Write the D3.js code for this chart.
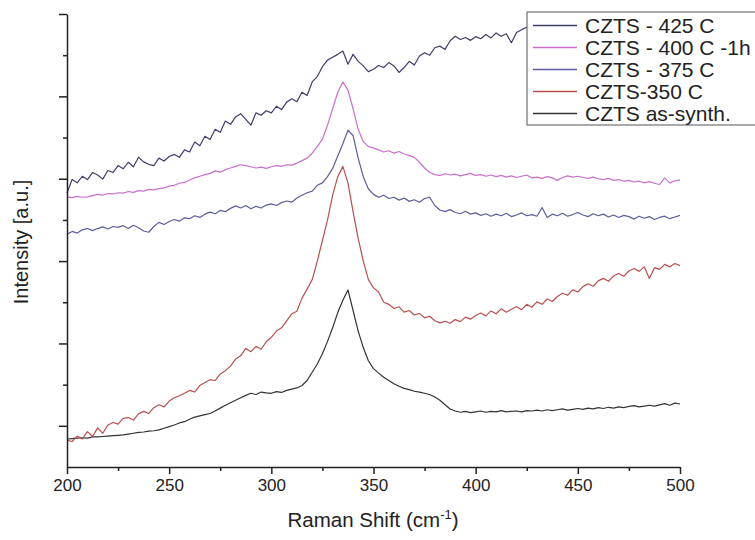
<!DOCTYPE html>
<html>
<head>
<meta charset="utf-8">
<script src="https://cdn.jsdelivr.net/npm/d3@7"></script>
<style>
  body { margin: 0; background: #fff; }
  text { font-family: "Liberation Sans", Arial, sans-serif; fill: #222; }
</style>
</head>
<body>
<svg width="755" height="540"></svg>
<script>
// Raman shift grid, cm-1 (every 2.5)
const shifts = d3.range(200, 500.1, 2.5);

// intensities, arbitrary units
const asSynth = [
  6.8, 6.9, 7.0, 7.1, 7.0, 7.3, 7.3, 7.4, 7.5, 7.6,
  7.7, 7.8, 8.0, 8.2, 8.4, 8.5, 8.7, 8.8, 9.0, 9.4,
  9.8, 10.2, 10.7, 11.0, 11.6, 12.1, 12.4, 12.7, 13.0, 13.6,
  14.3, 15.0, 15.6, 16.2, 16.8, 17.4, 17.9, 17.6, 18.2, 18.0,
  17.9, 18.3, 18.1, 18.6, 18.9, 19.2, 19.8, 21.0, 23.0, 25.0,
  27.5, 30.5, 33.8, 37.5, 40.5, 43.0, 38.0, 33.0, 29.0, 25.8,
  23.9, 22.8, 21.8, 21.0, 20.2, 19.6, 19.1, 18.8, 18.4, 18.2,
  17.9, 17.6, 17.0, 16.2, 15.1, 14.1, 13.6, 13.3, 13.5, 13.2,
  13.4, 13.6, 13.3, 13.5, 13.4, 13.7, 13.4, 13.5, 13.6, 13.4,
  13.7, 13.6, 13.8, 13.6, 13.9, 13.7, 13.9, 14.1, 13.8, 14.0,
  14.2, 14.0, 14.3, 14.1, 14.4, 14.2, 14.5, 14.3, 14.6, 14.4,
  14.7, 14.9, 14.6, 14.8, 15.0, 14.8, 15.1, 15.4, 15.0, 15.5,
  15.3
];
const czts350 = [
  6.5, 6.2, 7.5, 6.8, 8.6, 7.4, 9.5, 8.2, 10.2, 10.8,
  10.4, 11.8, 12.0, 11.4, 12.9, 13.5, 13.0, 14.4, 15.1, 14.6,
  16.0, 16.8, 17.3, 17.9, 18.6, 18.2, 19.8, 20.5, 21.2, 21.0,
  22.6, 23.4, 24.5, 26.2, 27.0, 28.8, 28.0, 29.3, 28.6, 30.4,
  31.5, 33.0, 33.8, 35.5, 37.2, 37.8, 41.0, 43.2, 45.5, 50.0,
  55.0, 60.0, 66.0, 70.5, 73.0, 69.0, 62.0, 55.5, 50.0, 45.5,
  43.5, 42.5, 40.0, 39.5, 38.5, 38.9, 37.6, 38.0, 36.9, 37.3,
  36.2, 36.6, 35.5, 35.0, 35.4, 34.9, 35.8, 35.3, 36.4, 35.9,
  36.8, 37.4, 36.7, 37.9, 37.2, 38.4, 37.6, 38.3, 38.9, 38.2,
  39.5, 38.8, 40.1, 39.5, 40.8, 40.2, 41.4, 42.2, 41.7, 43.0,
  42.5, 43.8, 44.5, 43.9, 45.2, 45.8, 45.1, 46.4, 47.0, 46.3,
  47.6, 48.2, 47.5, 48.6, 45.8, 48.4, 48.0, 49.2, 48.6, 49.4,
  48.9
];
const czts375 = [
  56.5, 57.2, 56.8, 57.6, 57.9, 57.4, 57.9, 58.3, 57.8, 58.4,
  58.2, 58.6, 57.9, 58.7, 58.1, 57.3, 57.0, 58.4, 59.4, 58.9,
  59.6, 60.1, 59.7, 60.5, 60.3, 61.0, 60.6, 61.4, 61.9, 61.5,
  62.3, 62.0, 62.8, 63.4, 62.9, 63.5, 62.7, 63.3, 62.9, 63.6,
  63.9, 63.5, 64.2, 64.6, 64.3, 65.3, 66.0, 66.6, 67.0, 68.4,
  69.0, 70.5, 72.5, 75.5, 78.5, 81.8, 80.5, 75.0, 70.5, 67.5,
  66.2, 65.5, 66.0, 65.2, 65.5, 64.8, 65.3, 64.5, 64.9, 64.3,
  65.2, 65.5, 63.5, 62.4, 62.0, 62.5, 61.8, 61.5, 62.1, 61.4,
  61.7, 61.1, 61.5, 60.9, 61.4, 61.0, 61.6, 60.8, 61.2, 61.7,
  61.0, 61.3, 60.9, 63.0, 60.6, 61.4, 61.0, 61.6, 60.9, 61.3,
  61.8, 61.2, 60.8, 61.5, 61.0, 61.4, 60.7, 61.2, 60.6, 61.1,
  60.8, 60.2, 60.9, 60.4, 60.8, 60.1, 60.6, 60.9, 60.3, 60.7,
  61.1
];
const czts400 = [
  65.6, 65.4, 65.7, 65.5, 65.6, 65.9, 66.2, 66.0, 66.4, 66.3,
  66.6, 66.5, 66.9, 66.7, 67.1, 67.0, 67.4, 67.3, 67.6, 67.8,
  68.2, 68.4, 68.9, 69.1, 69.7, 70.2, 70.6, 71.0, 71.3, 71.9,
  71.6, 72.2, 72.6, 73.0, 73.4, 73.2, 72.9, 72.6, 72.8, 72.5,
  72.9, 73.2, 73.0, 73.4, 73.3, 73.8, 74.4, 75.0, 76.2, 77.8,
  79.6, 83.0, 87.0, 91.0, 93.5, 91.5, 87.0, 82.0, 79.0, 77.8,
  77.5, 77.0, 76.5, 76.8, 76.2, 76.6, 76.0, 75.6, 75.2, 74.0,
  72.6, 71.5, 71.0, 70.8, 71.2, 70.9, 71.1, 70.7, 71.0, 71.3,
  70.8, 71.0, 70.6, 70.9, 70.5, 70.8, 70.4, 70.7, 70.3, 70.6,
  70.9, 70.2, 70.4, 70.1, 70.5, 70.2, 69.6, 70.3, 70.7, 70.4,
  70.6, 70.3, 70.1, 70.4, 70.0, 69.8, 70.1, 69.6, 69.8, 69.4,
  69.6, 69.2, 69.4, 69.0, 69.3, 68.9, 68.6, 70.2, 69.0, 69.5,
  69.7
];
const czts425 = [
  66.5, 69.8, 69.0, 70.6, 69.8, 71.5, 70.9, 69.9, 72.0, 71.5,
  73.2, 72.4, 74.0, 72.9, 75.2, 74.1, 73.5, 73.2, 75.0, 74.3,
  75.4, 75.9, 75.2, 77.0, 76.5, 78.9, 78.0, 80.3, 79.5, 82.0,
  81.3, 84.0, 83.2, 85.0, 85.8, 84.4, 83.0, 86.0, 85.4, 86.5,
  86.0, 87.6, 86.8, 88.6, 89.4, 88.7, 91.0, 90.2, 93.5, 94.8,
  97.2, 98.8, 99.5, 100.2, 101.0, 97.8, 100.2, 98.5, 97.4, 96.0,
  96.6, 97.5, 97.0, 98.2, 97.4, 95.8, 97.0, 98.5, 97.6, 99.8,
  100.6, 100.0, 101.8, 102.2, 101.4, 103.5, 104.6, 103.8, 104.3, 103.6,
  104.5, 104.0, 105.0, 104.2, 105.4, 104.6, 105.2, 103.0, 105.5, 106.2,
  106.8, 106.2, 107.0, 106.4, 107.2, 106.6, 107.4, 106.9, 107.6, 107.0,
  107.8, 107.2, 107.9, 107.3, 108.0, 107.4, 108.1, 107.5, 108.2, 107.6,
  108.3, 107.7, 108.4, 107.8, 108.5, 107.9, 108.6, 108.0, 108.7, 108.1,
  108.8
];

const seriesNames = ["CZTS - 425 C", "CZTS - 400 C -1h", "CZTS - 375 C", "CZTS-350 C", "CZTS as-synth."];
const seriesValues = [czts425, czts400, czts375, czts350, asSynth];
const seriesColors = ["#3e3e6c", "#c96fcb", "#5d5d9c", "#b9504f", "#333333"];

const xMajor = [200, 250, 300, 350, 400, 450, 500];
const xMinor = [225, 275, 325, 375, 425, 475];
const yMajor = [10, 30, 50, 70, 90, 110];
const yMinor = [20, 40, 60, 80, 100];

const svg = d3.select("svg");

const x = d3.scaleLinear().domain([200, 500]).range([67, 680]);
const y = d3.scaleLinear().domain([0, 110]).range([467, 14]);

const line = d3.line()
  .x((d, i) => x(shifts[i]))
  .y(d => y(d));

// draw bottom curve first so the upper ones sit on top
svg.append("g").selectAll("path")
  .data(seriesValues.map((v, i) => ({v: v, c: seriesColors[i]})).reverse())
  .join("path")
  .attr("d", d => line(d.v))
  .attr("fill", "none")
  .attr("stroke", d => d.c)
  .attr("stroke-width", 1.2)
  .attr("stroke-linejoin", "round");

// legend box (white, hides the end of the 425 C curve)
const leg = svg.append("g").attr("transform", "translate(527,12)");
leg.append("rect")
  .attr("x", 0).attr("y", 0)
  .attr("width", 260).attr("height", 113)
  .attr("fill", "#fff")
  .attr("stroke", "#555")
  .attr("stroke-width", 1);

const rows = leg.selectAll("g.row")
  .data(seriesNames)
  .join("g")
  .attr("class", "row")
  .attr("transform", (d, i) => `translate(0,${13.5 + i * 22})`);
rows.append("line")
  .attr("x1", 6).attr("x2", 50)
  .attr("stroke", (d, i) => seriesColors[i])
  .attr("stroke-width", 1.3);
rows.append("text")
  .attr("x", 58).attr("dy", "0.36em")
  .style("font-size", "21px")
  .text(d => d);

// axes
const xAxis = svg.append("g").attr("transform", "translate(0,467)");
xAxis.call(d3.axisBottom(x).tickValues(xMajor).tickSize(7).tickPadding(5).tickSizeOuter(0));
xAxis.append("g").call(d3.axisBottom(x).tickValues(xMinor).tickSize(4).tickFormat(""))
  .select(".domain").remove();

const yAxis = svg.append("g").attr("transform", "translate(67,0)");
yAxis.call(d3.axisLeft(y).tickValues(yMajor).tickSize(8).tickFormat("").tickSizeOuter(0));
yAxis.append("g").call(d3.axisLeft(y).tickValues(yMinor).tickSize(4).tickFormat(""))
  .select(".domain").remove();

svg.selectAll(".domain, .tick line")
  .attr("stroke", "#222")
  .attr("stroke-width", 1.5);
xAxis.selectAll(".tick text")
  .style("font-size", "17px")
  .style("font-family", "'Liberation Sans', Arial, sans-serif")
  .attr("fill", "#222");

// axis titles
const xt = svg.append("text")
  .attr("x", 373).attr("y", 527)
  .attr("text-anchor", "middle")
  .style("font-size", "20.5px");
xt.append("tspan").text("Raman Shift (cm");
xt.append("tspan").attr("dy", -8).style("font-size", "13px").text("-1");
xt.append("tspan").attr("dy", 8).text(")");

svg.append("text")
  .attr("transform", "translate(28,242) rotate(-90)")
  .attr("text-anchor", "middle")
  .style("font-size", "20px")
  .text("Intensity [a.u.]");
</script>
</body>
</html>
